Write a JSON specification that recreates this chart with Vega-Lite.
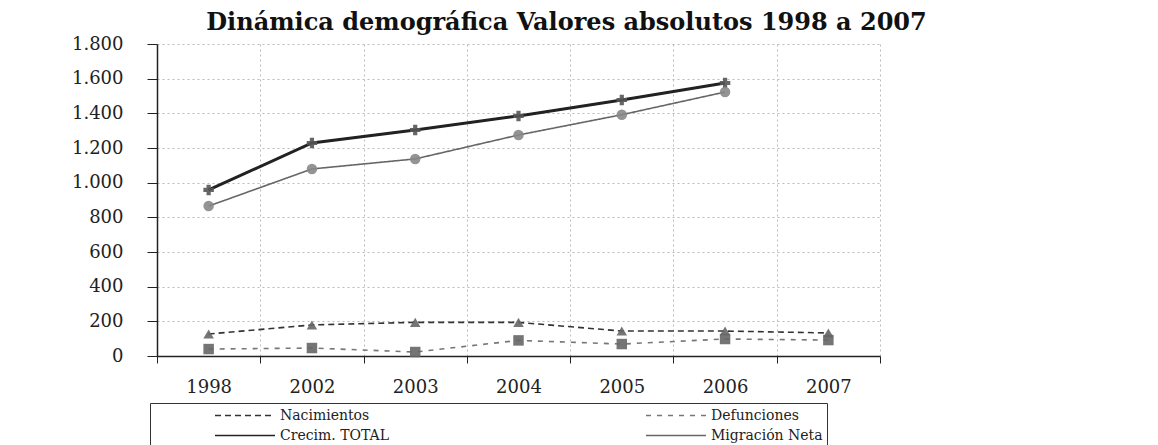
{
  "$schema": "https://vega.github.io/schema/vega-lite/v6.json",
  "autosize": "none",
  "width": 723,
  "height": 312,
  "padding": {"left": 157, "top": 44, "right": 278, "bottom": 89},
  "background": "white",
  "config": {
    "view": {"stroke": null},
    "font": "DejaVu Serif"
  },
  "title": {
    "text": "Dinámica demográfica Valores absolutos 1998 a 2007",
    "anchor": "middle",
    "dx": 48,
    "offset": 0,
    "fontSize": 24,
    "font": "DejaVu Serif",
    "fontWeight": "bold",
    "color": "#111111"
  },
  "data": {
    "values": [
      {"year": "1998", "serie": "Nacimientos", "valor": 127},
      {"year": "2002", "serie": "Nacimientos", "valor": 179},
      {"year": "2003", "serie": "Nacimientos", "valor": 194},
      {"year": "2004", "serie": "Nacimientos", "valor": 194},
      {"year": "2005", "serie": "Nacimientos", "valor": 144},
      {"year": "2006", "serie": "Nacimientos", "valor": 144},
      {"year": "2007", "serie": "Nacimientos", "valor": 133},
      {"year": "1998", "serie": "Defunciones", "valor": 40},
      {"year": "2002", "serie": "Defunciones", "valor": 46},
      {"year": "2003", "serie": "Defunciones", "valor": 23},
      {"year": "2004", "serie": "Defunciones", "valor": 90},
      {"year": "2005", "serie": "Defunciones", "valor": 69},
      {"year": "2006", "serie": "Defunciones", "valor": 98},
      {"year": "2007", "serie": "Defunciones", "valor": 92},
      {"year": "1998", "serie": "Crecim. TOTAL", "valor": 958},
      {"year": "2002", "serie": "Crecim. TOTAL", "valor": 1229},
      {"year": "2003", "serie": "Crecim. TOTAL", "valor": 1304},
      {"year": "2004", "serie": "Crecim. TOTAL", "valor": 1385},
      {"year": "2005", "serie": "Crecim. TOTAL", "valor": 1477},
      {"year": "2006", "serie": "Crecim. TOTAL", "valor": 1575},
      {"year": "1998", "serie": "Migración Neta", "valor": 865},
      {"year": "2002", "serie": "Migración Neta", "valor": 1079},
      {"year": "2003", "serie": "Migración Neta", "valor": 1137},
      {"year": "2004", "serie": "Migración Neta", "valor": 1275},
      {"year": "2005", "serie": "Migración Neta", "valor": 1392},
      {"year": "2006", "serie": "Migración Neta", "valor": 1523}
    ]
  },
  "encoding": {
    "x": {
      "field": "year",
      "type": "nominal",
      "sort": null,
      "title": null,
      "scale": {"type": "band", "paddingInner": 0, "paddingOuter": 0},
      "axis": {
        "labelAngle": 0,
        "labelFontSize": 18,
        "labelFont": "DejaVu Serif",
        "labelColor": "#222222",
        "labelPadding": 15,
        "tickBand": "extent",
        "tickSize": 7,
        "tickColor": "#222222",
        "domainColor": "#222222",
        "domainWidth": 1.5,
        "grid": true,
        "gridColor": "#bbbbbb",
        "gridDash": [2, 3]
      }
    },
    "y": {
      "field": "valor",
      "type": "quantitative",
      "title": null,
      "scale": {"domain": [0, 1800], "nice": false},
      "axis": {
        "values": [0, 200, 400, 600, 800, 1000, 1200, 1400, 1600, 1800],
        "labelExpr": "replace(format(datum.value, ',d'), ',', '.')",
        "labelFontSize": 18,
        "labelFont": "DejaVu Serif",
        "labelColor": "#222222",
        "labelPadding": 24,
        "tickSize": 10,
        "tickColor": "#222222",
        "domainColor": "#222222",
        "domainWidth": 1.5,
        "grid": true,
        "gridColor": "#bbbbbb",
        "gridDash": [2, 3]
      }
    }
  },
  "resolve": {"scale": {"color": "independent"}},
  "layer": [
    {
      "mark": {"type": "line", "strokeWidth": 1.6},
      "encoding": {
        "color": {
          "field": "serie",
          "type": "nominal",
          "scale": {
            "domain": ["Nacimientos", "Defunciones", "Crecim. TOTAL", "Migración Neta"],
            "range": ["#333333", "#777777", "#222222", "#666666"]
          },
          "legend": {
            "orient": "none",
            "legendX": -7,
            "legendY": 359,
            "direction": "horizontal",
            "columns": 2,
            "title": null,
            "strokeColor": "#333333",
            "padding": 4,
            "symbolOffset": 60,
            "symbolType": "stroke",
            "symbolSize": 3600,
            "clipHeight": 17,
            "symbolStrokeWidth": 1.5,
            "labelFontSize": 14,
            "labelFont": "DejaVu Serif",
            "labelColor": "#222222",
            "columnPadding": 196,
            "rowPadding": 3,
            "encode": {
              "symbols": {
                "update": {
                  "strokeDash": {"scale": "strokeDash", "field": "value"}
                }
              }
            }
          }
        },
        "strokeDash": {
          "field": "serie",
          "type": "nominal",
          "scale": {
            "domain": ["Nacimientos", "Defunciones", "Crecim. TOTAL", "Migración Neta"],
            "range": [[6, 4], [5, 6], [1, 0], [1, 0]]
          }
        }
      }
    },
    {
      "transform": [{"filter": "datum.serie === 'Crecim. TOTAL'"}],
      "mark": {"type": "line", "strokeWidth": 3, "color": "#222222"},
      "encoding": {}
    },
    {
      "mark": {"type": "point", "filled": true, "opacity": 0.9, "size": 110},
      "encoding": {
        "color": {
          "field": "serie",
          "type": "nominal",
          "scale": {
            "domain": ["Nacimientos", "Defunciones", "Crecim. TOTAL", "Migración Neta"],
            "range": ["#666666", "#666666", "#555555", "#888888"]
          },
          "legend": null
        },
        "shape": {
          "field": "serie",
          "type": "nominal",
          "scale": {
            "domain": ["Nacimientos", "Defunciones", "Crecim. TOTAL", "Migración Neta"],
            "range": ["triangle-up", "square", "cross", "circle"]
          },
          "legend": null
        }
      }
    }
  ]
}
